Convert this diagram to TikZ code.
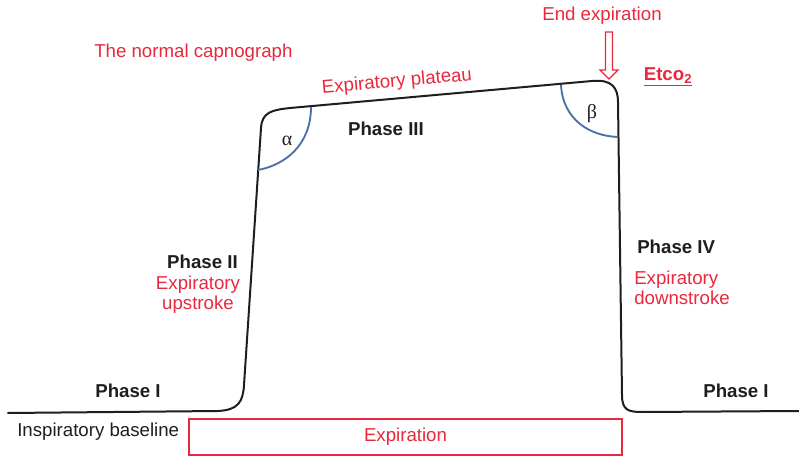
\documentclass[tikz,border=0pt]{standalone}
\usepackage{fontspec}
\setmainfont{Liberation Sans}
\newfontfamily\greekfont{Liberation Serif}
\definecolor{capred}{HTML}{E8283C}
\definecolor{capblue}{HTML}{4A72A8}
\definecolor{capblack}{HTML}{1E1E1E}

\begin{document}
\begin{tikzpicture}[
  x=0.75pt,
  y=-0.75pt,
  trace/.style={
    draw=capblack,
    line width=1.5pt,
    line join=round,
    line cap=round
  },
  anglearc/.style={
    draw=capblue,
    line width=1.4pt
  },
  redlabel/.style={
    inner sep=0pt,
    text=capred,
    font=\fontsize{14}{15}\selectfont
  },
  phaselabel/.style={
    inner sep=0pt,
    text=capblack,
    font=\fontsize{14}{15}\selectfont\bfseries
  },
  greeklabel/.style={
    inner sep=0pt,
    text=capblack,
    font=\fontsize{15}{18}\selectfont\greekfont
  },
  hollowarrow/.style={
    draw=capred,
    fill=white,
    line width=0.9pt,
    line join=miter
  },
  expbox/.style={
    draw=capred,
    line width=1.5pt,
    minimum width=324.75pt,
    minimum height=27pt,
    inner sep=0pt,
    text=capred,
    font=\fontsize{14}{15}\selectfont
  }
]
\useasboundingbox (0,0) rectangle (799,456);

% capnogram trace
\draw[trace]
  (8,413) -- (218,411)
  .. controls (238,410) and (243,402) .. (244,385)
  -- (261,128)
  .. controls (262,112) and (272,110) .. (290,108)
  -- (592,81)
  .. controls (612,79) and (618,88) .. (618,102)
  -- (622,395)
  .. controls (622,410) and (628,412) .. (642,412)
  -- (799,411);

% angles
\draw[anglearc] (311,107) .. controls (311,145) and (285,165) .. (258,170);
\draw[anglearc] (561,85) .. controls (563,120) and (590,136) .. (618,137);
\node[greeklabel] (alpha) at (287,141) {α};
\node[greeklabel] (beta) at (592,114) {β};

% end expiration marker
\node[redlabel] (endexp) at (602,16) {End expiration};
\coordinate (arrowtip) at (609,79);
\draw[hollowarrow]
  (605.5,32) -- (612.5,32) -- (612.5,70) -- (618,70) -- (arrowtip)
  -- (600,70) -- (605.5,70) -- cycle;
\node[redlabel,font=\fontsize{14}{15}\selectfont\bfseries] (etco) at (668,77)
  {\underline{Etco\textsubscript{2}}};

% labels
\node[redlabel,anchor=west] (title) at (94,53) {The normal capnograph};
\node[redlabel,rotate=5] (plateau) at (397,82) {Expiratory plateau};
\node[phaselabel] (phaseIII) at (386,129) {Phase III};

\node[phaselabel,anchor=east] (phaseII) at (238,262) {Phase II};
\node[redlabel,align=center] (upstroke) at (198,295) {Expiratory\\upstroke};

\node[phaselabel,anchor=west] (phaseIV) at (637,247) {Phase IV};
\node[redlabel,align=left,anchor=west] (downstroke) at (634,288) {Expiratory\\downstroke};

\node[phaselabel] (phaseIleft) at (128,391) {Phase I};
\node[phaselabel] (phaseIright) at (736,391) {Phase I};

\node[phaselabel,font=\fontsize{14}{15}\selectfont,anchor=west] (baseline) at (17,432)
  {Inspiratory baseline};
\node[expbox] (expiration) at (405.5,437) {Expiration};

\end{tikzpicture}
\end{document}
